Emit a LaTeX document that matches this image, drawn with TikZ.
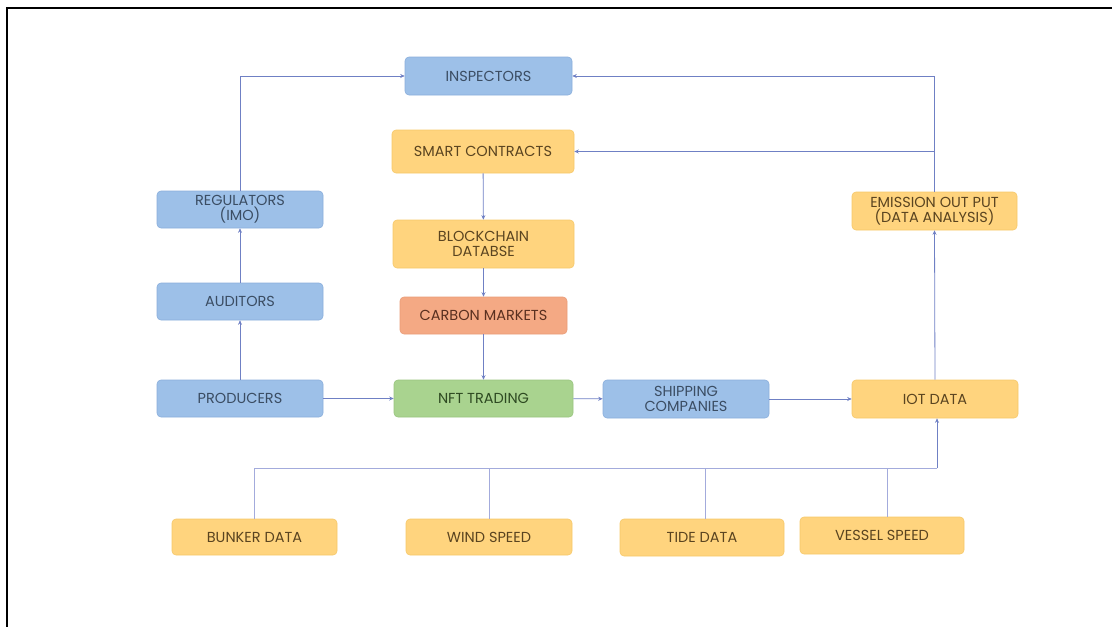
\documentclass[tikz,border=0pt]{standalone}
\usepackage{fontspec}
\setmainfont{Poppins}
\usetikzlibrary{arrows.meta,calc}
\definecolor{bluefill}{HTML}{9DC0E8}
\definecolor{blueedge}{HTML}{8AAEDB}
\definecolor{bluetext}{HTML}{3B4D63}
\definecolor{yelfill}{HTML}{FFD47E}
\definecolor{yeledge}{HTML}{F6C86A}
\definecolor{yeltext}{HTML}{5A4420}
\definecolor{redfill}{HTML}{F4A984}
\definecolor{rededge}{HTML}{E99C78}
\definecolor{redtext}{HTML}{5A3020}
\definecolor{grnfill}{HTML}{A9D38F}
\definecolor{grnedge}{HTML}{98C47E}
\definecolor{grntext}{HTML}{2E4A22}
\definecolor{linec}{HTML}{6F80C4}
\definecolor{lightlinec}{HTML}{A3ABDC}
\tikzset{
  x=1pt,y=-1pt,
  box/.style={rounded corners=4pt, minimum width=166pt, minimum height=38pt,
    align=center, inner sep=1pt, font=\fontsize{14.5}{15}\selectfont, line width=0.6pt},
  bluebox/.style={box, fill=bluefill, draw=blueedge, text=bluetext},
  yelbox/.style={box, fill=yelfill, draw=yeledge, text=yeltext},
  redbox/.style={box, fill=redfill, draw=rededge, text=redtext},
  grnbox/.style={box, fill=grnfill, draw=grnedge, text=grntext},
  conn/.style={draw=linec, line width=0.8pt, -{Stealth[length=4.5pt,width=4pt]}},
  plain/.style={draw=lightlinec, line width=0.8pt},
}
\begin{document}
\begin{tikzpicture}
\useasboundingbox (0,0) rectangle (1112,627);
\draw[line width=2.5pt] (7,627) -- (7,8) -- (1112,8);

\node[bluebox, minimum width=167pt] (insp) at (488.5,76) {INSPECTORS};
\node[yelbox, minimum width=182pt, minimum height=43pt] (smart) at (483,151.5) {SMART CONTRACTS};
\node[yelbox, minimum width=181pt, minimum height=48pt] (block) at (483.5,244) {BLOCKCHAIN\\DATABSE};
\node[redbox, minimum width=167pt, minimum height=37pt] (carbon) at (483.5,315.5) {CARBON MARKETS};
\node[grnbox, minimum width=179pt, minimum height=37pt] (nft) at (483.5,398.5) {NFT TRADING};
\node[bluebox] (ship) at (686,399) {SHIPPING\\COMPANIES};
\node[yelbox] (iot) at (935,399) {IOT DATA};
\node[yelbox, minimum width=165pt] (emis) at (934.5,211) {EMISSION OUT PUT\\(DATA ANALYSIS)};
\node[bluebox, minimum height=37pt] (reg) at (240,209.5) {REGULATORS\\(IMO)};
\node[bluebox, minimum height=37pt] (aud) at (240,301.5) {AUDITORS};
\node[bluebox, minimum height=37pt] (prod) at (240,398.5) {PRODUCERS};
\node[yelbox, minimum width=165pt, minimum height=36pt] (bunker) at (254.5,537) {BUNKER DATA};
\node[yelbox, minimum width=166pt, minimum height=36pt] (wind) at (489,537) {WIND SPEED};
\node[yelbox, minimum width=164pt, minimum height=37pt] (tide) at (702,537.5) {TIDE DATA};
\node[yelbox, minimum width=164pt, minimum height=37pt] (vessel) at (882,535.5) {VESSEL SPEED};

% top connections
\draw[conn] (reg.north) |- (insp.west);
\draw[conn] (emis.north) |- (insp.east);
\draw[conn] (emis.north |- smart.east) -- (smart.east);
\draw[conn] (iot.north) -- (emis.south);

% central column
\draw[conn] (smart) -- (block);
\draw[conn] (block) -- (carbon);
\draw[conn] (carbon) -- (nft);

% left column
\draw[conn] (prod) -- (aud);
\draw[conn] (aud) -- (reg);

% middle row
\draw[conn] (prod) -- (nft);
\draw[conn] (nft) -- (ship);
\draw[conn] (ship) -- (iot);

% bottom data bus
\coordinate (busR) at ($(iot.south)+(2,50)$);
\draw[plain] (bunker.north) |- (busR);
\draw[conn] (busR) -- ($(iot.south)+(2,0)$);
\draw[plain] (wind.north) -- (wind.north |- busR);
\draw[plain] ($(tide.north)+(3,0)$) -- ($(tide.north |- busR)+(3,0)$);
\draw[plain] ($(vessel.north)+(5,0)$) -- ($(vessel.north |- busR)+(5,0)$);
\end{tikzpicture}
\end{document}
